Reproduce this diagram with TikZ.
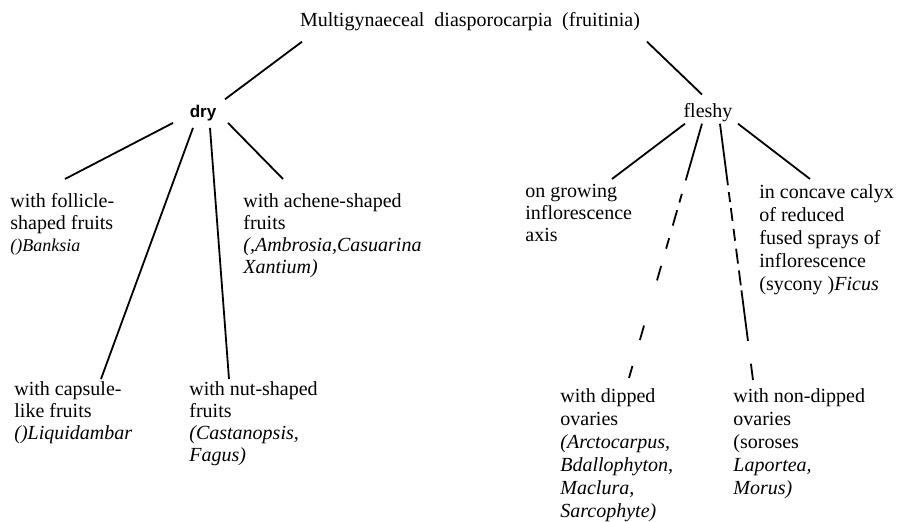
\documentclass[tikz,border=0pt]{standalone}
\usepackage{fontspec}
\setmainfont{Liberation Serif}
\newfontfamily\drysans{Liberation Sans}
\usetikzlibrary{calc}

\begin{document}
\begin{tikzpicture}[x=0.5pt, y=-0.5pt,
    leaf/.style={anchor=north west, inner sep=0pt, align=left,
                 font=\fontsize{10}{11}\selectfont},
    tall/.style={leaf, font=\fontsize{10}{11.5}\selectfont},
    head/.style={anchor=base, inner sep=0pt, font=\fontsize{10}{11}\selectfont},
    branch/.style={line width=0.9pt},
    brokenA/.style={branch, dash pattern=on 29.5pt off 7pt on 4.5pt off 4pt on 8pt
                    off 6.5pt on 5.5pt off 9pt on 7.5pt off 23.5pt on 7.5pt
                    off 13.5pt on 7pt off 20pt},
    brokenB/.style={branch, dash pattern=on 31pt off 3.5pt on 5pt off 3pt on 6.5pt
                    off 4pt on 6pt off 4pt on 7.5pt off 3.5pt on 7.5pt off 2.5pt
                    on 25.5pt off 11.5pt on 8.5pt off 20pt}]
  \useasboundingbox (0,0) rectangle (902,522);
  %% Root and the two main groups
  \node[head] (root) at (470,27) {Multigynaeceal\ \ diasporocarpia\ \ (fruitinia)};
  \node[head, font=\drysans\bfseries\fontsize{8.5}{10}\selectfont] (dry) at (203,118) {dry};
  \node[head] (fleshy) at (708,118) {fleshy};
  %% Dry fruits
  \node[leaf] (follicle) at (10,193)
    {with follicle-\\shaped fruits\\{\fontsize{9}{11}\selectfont\itshape ()Banksia}};
  \node[leaf] (achene) at (243,193)
    {with achene-shaped\\fruits\\\textit{(,Ambrosia,Casuarina}\\\textit{Xantium)}};
  \node[leaf] (capsule) at (14,381)
    {with capsule-\\like fruits\\\textit{()Liquidambar}};
  \node[leaf] (nut) at (189,381)
    {with nut-shaped\\fruits\\\textit{(Castanopsis,}\\\textit{Fagus)}};
  %% Fleshy fruits
  \node[leaf] (growing) at (525,184)
    {on growing\\inflorescence\\axis};
  \node[tall] (calyx) at (759,184)
    {in concave calyx\\of reduced\\fused sprays of\\inflorescence\\(sycony )\textit{Ficus}};
  \node[tall] (dipped) at (560,388)
    {with dipped\\ovaries\\\textit{(Arctocarpus,}\\\textit{Bdallophyton,}\\\textit{Maclura,}\\\textit{Sarcophyte)}};
  \node[tall] (nondipped) at (733,388)
    {with non-dipped\\ovaries\\(soroses\\\textit{Laportea,}\\\textit{Morus)}};
  %% Branches
  \draw[branch] ($(root.south)+(-168,10)$) -- ($(dry.north)+(22,-6)$);
  \draw[branch] ($(root.south)+(177,10)$) -- ($(fleshy.north)+(-6,-9)$);
  \draw[branch] ($(dry.south)+(-30,1)$) -- ($(follicle.north west)+(55,-14)$);
  \draw[branch] ($(dry.south)+(-10,6)$) -- ($(capsule.north west)+(87,-2)$);
  \draw[branch] ($(dry.south)+(7,6)$)   -- ($(nut.north west)+(40,-2)$);
  \draw[branch] ($(dry.south)+(25,1)$)  -- ($(achene.north west)+(40,-14)$);
  \draw[branch] ($(fleshy.south)+(-23,1)$) -- ($(growing.north west)+(87,-5)$);
  \draw[brokenA] ($(fleshy.south)+(-6,1)$) -- ($(dipped.north west)+(69,-10)$);
  \draw[brokenB] ($(fleshy.south)+(12,1)$) -- ($(nondipped.north west)+(20,-8)$);
  \draw[branch] ($(fleshy.south)+(30,1)$) -- ($(calyx.north west)+(51,-5)$);
\end{tikzpicture}
\end{document}
